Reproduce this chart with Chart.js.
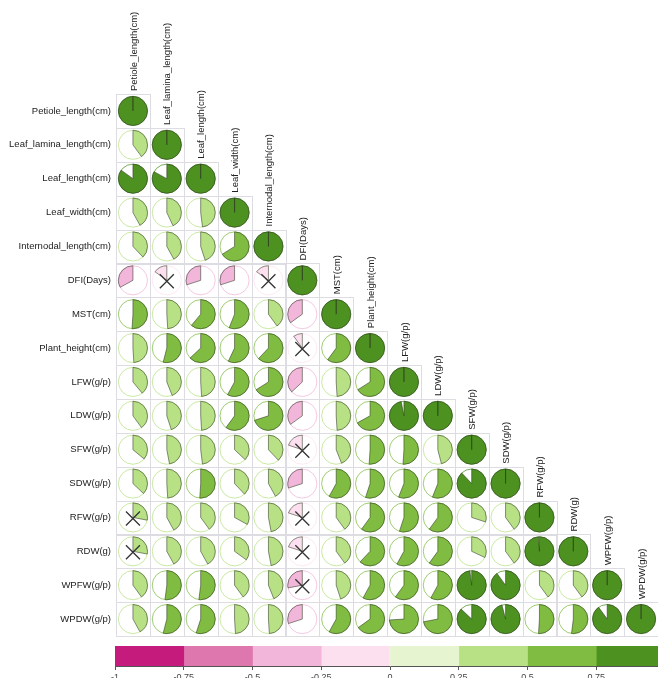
<!DOCTYPE html>
<html>
<head>
<meta charset="utf-8">
<script src="https://cdn.jsdelivr.net/npm/chart.js@4.4.1/dist/chart.umd.min.js"></script>
<style>
  html, body { margin: 0; padding: 0; background: #fff; width: 658px; height: 678px; overflow: hidden; }
  #wrap { position: relative; width: 658px; height: 678px; overflow: hidden; }
  #main { position: absolute; left: 0; top: 0; }
  #bar { position: absolute; left: 0; top: 640px; }
</style>
</head>
<body>
<div id="wrap">
  <canvas id="main" width="658" height="678"></canvas>
  <canvas id="bar" width="700" height="50"></canvas>
</div>
<script>
// ---------- DATA ----------
const variables = [
  "Petiole_length(cm)", "Leaf_lamina_length(cm)", "Leaf_length(cm)", "Leaf_width(cm)",
  "Internodal_length(cm)", "DFI(Days)", "MST(cm)", "Plant_height(cm)",
  "LFW(g/p)", "LDW(g/p)", "SFW(g/p)", "SDW(g/p)", "RFW(g/p)", "RDW(g)",
  "WPFW(g/p)", "WPDW(g/p)"
];

// lower-triangle correlation rows (row i has i+1 values, columns 0..i)
const rowPetiole   = [1];
const rowLamina    = [0.40, 1];
const rowLeafLen   = [0.85, 0.83, 1];
const rowLeafWid   = [0.42, 0.43, 0.48, 1];
const rowIntern    = [0.38, 0.42, 0.45, 0.66, 1];
const rowDFI       = [-0.33, -0.15, -0.30, -0.30, -0.15, 1];
const rowMST       = [0.51, 0.49, 0.61, 0.56, 0.40, -0.35, 1];
const rowPH        = [0.49, 0.54, 0.63, 0.57, 0.62, -0.10, 0.60, 1];
const rowLFW       = [0.39, 0.44, 0.49, 0.58, 0.66, -0.37, 0.49, 0.66, 1];
const rowLDW       = [0.40, 0.45, 0.49, 0.60, 0.70, -0.35, 0.49, 0.67, 0.97, 1];
const rowSFW       = [0.36, 0.47, 0.48, 0.37, 0.38, -0.20, 0.44, 0.51, 0.51, 0.46, 1];
const rowSDW       = [0.37, 0.49, 0.51, 0.38, 0.42, -0.30, 0.58, 0.55, 0.56, 0.56, 0.88, 1];
const rowRFW       = [0.28, 0.42, 0.40, 0.33, 0.47, -0.20, 0.40, 0.60, 0.55, 0.60, 0.30, 0.40, 1];
const rowRDW       = [0.28, 0.42, 0.42, 0.35, 0.47, -0.20, 0.40, 0.62, 0.58, 0.60, 0.32, 0.40, 0.99, 1];
const rowWPFW      = [0.40, 0.52, 0.52, 0.40, 0.44, -0.28, 0.45, 0.58, 0.60, 0.58, 0.98, 0.90, 0.40, 0.40, 1];
const rowWPDW      = [0.42, 0.54, 0.55, 0.49, 0.49, -0.30, 0.58, 0.65, 0.74, 0.72, 0.87, 0.96, 0.51, 0.52, 0.90, 1];

const corrRows = [rowPetiole, rowLamina, rowLeafLen, rowLeafWid, rowIntern, rowDFI, rowMST, rowPH,
                  rowLFW, rowLDW, rowSFW, rowSDW, rowRFW, rowRDW, rowWPFW, rowWPDW];

// non-significant cells [row, col] (crossed)
const nonSignificant = [[5,1],[5,4],[7,5],[10,5],[12,0],[12,5],[13,0],[13,5],[14,5]];

// colour legend
const legendBreaks = [-1, -0.75, -0.5, -0.25, 0, 0.25, 0.5, 0.75, 1];
const legendColors = ["#C51B7D", "#DE77AE", "#F1B6DA", "#FDE0EF", "#E6F5D0", "#B8E186", "#7FBC41", "#4D9221"];
const legendTickLabels = ["-1", "-0.75", "-0.5", "-0.25", "0", "0.25", "0.5", "0.75", "1"];

// ---------- HELPERS ----------
function binIndex(r) {
  let k = Math.floor((r + 1) / 0.25);
  return Math.max(0, Math.min(7, k));
}
function hexA(hex, a) {
  const n = parseInt(hex.slice(1), 16);
  return `rgba(${(n>>16)&255},${(n>>8)&255},${n&255},${a})`;
}

const points = [];
corrRows.forEach((row, i) => row.forEach((r, j) => {
  points.push({ x: j, y: i, r: r, ns: nonSignificant.some(p => p[0] === i && p[1] === j) });
}));

const FONT = '"Liberation Sans", Arial, sans-serif';

const corrPlugin = {
  id: 'corrPies',
  afterDatasetsDraw(chart) {
    const ctx = chart.ctx;
    const xs = chart.scales.x, ys = chart.scales.y;
    const cw = Math.abs(xs.getPixelForValue(1) - xs.getPixelForValue(0));
    const ch = Math.abs(ys.getPixelForValue(1) - ys.getPixelForValue(0));
    const rad = cw * 0.43;
    ctx.save();
    // grid cells
    ctx.strokeStyle = '#dcdce2';
    ctx.lineWidth = 1;
    points.forEach(p => {
      const cx = xs.getPixelForValue(p.x), cy = ys.getPixelForValue(p.y);
      ctx.strokeRect(Math.round(cx - cw/2) + 0.5, Math.round(cy - ch/2) + 0.5, Math.round(cw), Math.round(ch));
    });
    // pies
    chart.getDatasetMeta(0).data.forEach((el, k) => {
      const p = points[k];
      const cx = el.x, cy = el.y;
      const col = legendColors[binIndex(p.r)];
      // outline circle
      ctx.beginPath();
      ctx.arc(cx, cy, rad, 0, Math.PI * 2);
      ctx.fillStyle = '#fff';
      ctx.fill();
      ctx.strokeStyle = hexA(col, 0.75);
      ctx.lineWidth = 1;
      ctx.stroke();
      // wedge
      const start = -Math.PI / 2;
      const ang = Math.abs(p.r) * Math.PI * 2;
      const neg = p.r < 0;
      ctx.beginPath();
      ctx.moveTo(cx, cy);
      ctx.lineTo(cx, cy - rad);
      ctx.arc(cx, cy, rad, start, neg ? start - ang : start + ang, neg);
      ctx.closePath();
      ctx.fillStyle = col;
      ctx.fill();
      ctx.strokeStyle = 'rgba(45,55,35,0.55)';
      ctx.lineWidth = 1;
      ctx.stroke();
      // cross
      if (p.ns) {
        const s = 7;
        ctx.beginPath();
        ctx.moveTo(cx - s, cy - s + 1); ctx.lineTo(cx + s, cy + s + 1);
        ctx.moveTo(cx + s, cy - s + 1); ctx.lineTo(cx - s, cy + s + 1);
        ctx.strokeStyle = '#333';
        ctx.lineWidth = 1.3;
        ctx.stroke();
      }
    });
    // row labels
    ctx.fillStyle = '#222';
    ctx.font = '9.5px ' + FONT;
    ctx.textAlign = 'right';
    ctx.textBaseline = 'middle';
    variables.forEach((v, i) => {
      ctx.fillText(v, xs.getPixelForValue(-0.5) - 5, ys.getPixelForValue(i));
    });
    // column labels (rotated, above diagonal)
    ctx.textAlign = 'left';
    variables.forEach((v, j) => {
      const x = xs.getPixelForValue(j) + 1;
      const y = ys.getPixelForValue(j) - ch / 2 - 3;
      ctx.save();
      ctx.translate(x, y);
      ctx.rotate(-Math.PI / 2);
      ctx.fillText(v, 0, 0);
      ctx.restore();
    });
    ctx.restore();
  }
};

new Chart(document.getElementById('main'), {
  type: 'scatter',
  data: { datasets: [{ data: points.map(p => ({ x: p.x, y: p.y })), pointRadius: 0, pointHoverRadius: 0 }] },
  options: {
    responsive: false,
    animation: false,
    events: [],
    layout: { padding: { left: 116, top: 94, right: 0, bottom: 42 } },
    plugins: { legend: { display: false }, tooltip: { enabled: false } },
    scales: {
      x: { type: 'linear', min: -0.5, max: 15.5, display: false },
      y: { type: 'linear', min: -0.5, max: 15.5, reverse: true, display: false }
    }
  },
  plugins: [corrPlugin]
});

// colour bar
const barDatasets = legendColors.map((c, k) => ({
  data: [[legendBreaks[k], legendBreaks[k + 1]]],
  backgroundColor: c,
  borderWidth: 0,
  grouped: false,
  barPercentage: 1,
  categoryPercentage: 1
}));

new Chart(document.getElementById('bar'), {
  type: 'bar',
  data: { labels: [''], datasets: barDatasets },
  options: {
    indexAxis: 'y',
    responsive: false,
    animation: false,
    events: [],
    layout: { padding: { left: 115, right: 35, top: 6, bottom: 0 } },
    plugins: { legend: { display: false }, tooltip: { enabled: false } },
    scales: {
      y: { display: false },
      x: {
        type: 'linear', min: -1, max: 1,
        afterFit(s) { s.height = 24; },
        afterBuildTicks(s) { s.ticks = legendBreaks.map(v => ({ value: v })); },
        border: { display: true, color: '#555', width: 1 },
        grid: { drawOnChartArea: false, drawTicks: true, tickLength: 4, color: '#555' },
        ticks: {
          padding: 2, color: '#444', font: { size: 9, family: FONT }, maxRotation: 0, autoSkip: false,
          callback: (v, idx) => legendTickLabels[idx]
        }
      }
    }
  }
});
</script>
</body>
</html>
